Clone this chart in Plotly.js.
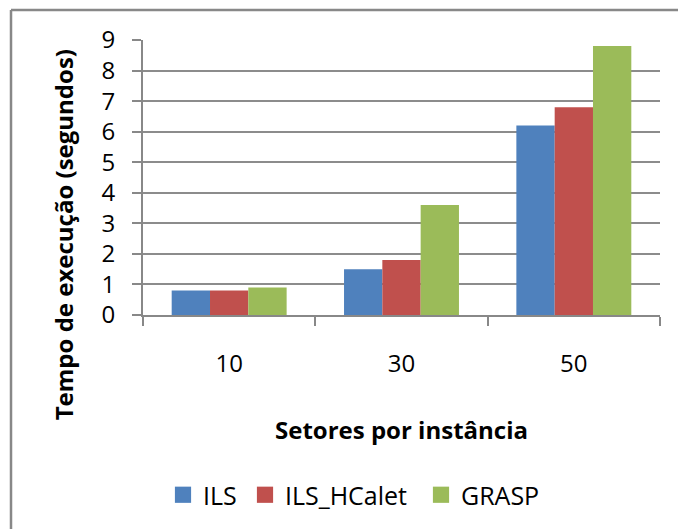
<!DOCTYPE html>
<html>
<head>
<meta charset="utf-8">
<script src="https://cdn.plot.ly/plotly-3.0.1.min.js"></script>
<style>
html,body{margin:0;padding:0;background:#fff;}
#chart{width:678px;height:529px;}
</style>
</head>
<body>
<div id="chart"></div>
<script>
var categories = ["10", "30", "50"];
var seriesNames = ["ILS", "ILS_HCalet", "GRASP"];
var ilsValues = [0.8, 1.5, 6.2];
var hcaletValues = [0.8, 1.8, 6.8];
var graspValues = [0.9, 3.6, 8.8];
var yTickValues = [0, 1, 2, 3, 4, 5, 6, 7, 8, 9];
var xTitle = "Setores por instância";
var yTitle = "Tempo de execução (segundos)";

var colors = ["#4F81BD", "#C0504D", "#9BBB59"];
var seriesValues = [ilsValues, hcaletValues, graspValues];

var W = 678, H = 529;
var M = {l: 143, r: 18, t: 40, b: 213};
var pw = W - M.l - M.r, ph = H - M.t - M.b;
function px2x(p){ return (p - M.l) / pw; }
function px2y(p){ return (H - M.b - p) / ph; }

var font = "'Open Sans', 'Liberation Sans', sans-serif";
var gray = "#888888";
var legendIds = ["legend", "legend2", "legend3"];
var legendLeftPx = [163, 245, 421];

var traces = seriesNames.map(function(name, i){
  return {
    type: "bar",
    name: name,
    x: categories,
    y: seriesValues[i],
    legend: legendIds[i],
    marker: {color: colors[i], line: {width: 0}},
    hoverinfo: "x+y+name"
  };
});

var layout = {
  width: W, height: H,
  margin: M,
  paper_bgcolor: "#ffffff",
  plot_bgcolor: "#ffffff",
  barmode: "group",
  bargap: 0.333,
  bargroupgap: 0,
  font: {family: font, color: "#000000", size: 24},
  showlegend: true,
  xaxis: {
    type: "category",
    categoryorder: "array",
    categoryarray: categories,
    showline: true, linecolor: gray, linewidth: 2,
    ticks: "outside", tickson: "boundaries", ticklen: 9, tickwidth: 2, tickcolor: gray,
    showgrid: false, zeroline: false,
    tickfont: {family: font, size: 24, color: "#000"},
    ticklabelstandoff: 26,
    title: {text: xTitle, font: {family: font, size: 24, color: "#000", weight: "bold"}, standoff: 44},
    automargin: false,
    fixedrange: true
  },
  yaxis: {
    range: [0, 9],
    tickvals: yTickValues,
    showline: true, linecolor: gray, linewidth: 2,
    ticks: "outside", ticklen: 9, tickwidth: 2, tickcolor: gray,
    showgrid: true, gridcolor: "#8c8c8c", gridwidth: 2,
    zeroline: false,
    tickfont: {family: font, size: 24, color: "#000"},
    ticklabelstandoff: 12,
    automargin: false,
    fixedrange: true
  },
  annotations: [{
    text: "<b>" + yTitle + "</b>",
    xref: "paper", yref: "paper",
    x: px2x(63), y: px2y(236),
    xanchor: "center", yanchor: "middle",
    textangle: -90,
    showarrow: false,
    font: {family: font, size: 24, color: "#000"}
  }],
  shapes: [
    {type: "line", xref: "paper", yref: "paper", x0: px2x(11), x1: px2x(11), y0: px2y(10), y1: px2y(H + 5), line: {color: gray, width: 2.5}},
    {type: "line", xref: "paper", yref: "paper", x0: px2x(11), x1: px2x(W + 5), y0: px2y(10), y1: px2y(10), line: {color: gray, width: 2.5}}
  ]
};

legendIds.forEach(function(id, i){
  layout[id] = {
    orientation: "h",
    x: px2x(legendLeftPx[i]), xanchor: "left",
    y: px2y(495), yanchor: "middle",
    font: {family: font, size: 25, color: "#000"},
    itemwidth: 30,
    bgcolor: "rgba(0,0,0,0)"
  };
});

Plotly.newPlot("chart", traces, layout, {displayModeBar: false, responsive: false}).then(function(gd){
  var pts = gd.querySelectorAll(".legendpoints path");
  pts.forEach(function(p){
    var t = p.getAttribute("transform") || "";
    p.setAttribute("transform", t + " scale(1.35)");
  });
});
</script>
</body>
</html>
